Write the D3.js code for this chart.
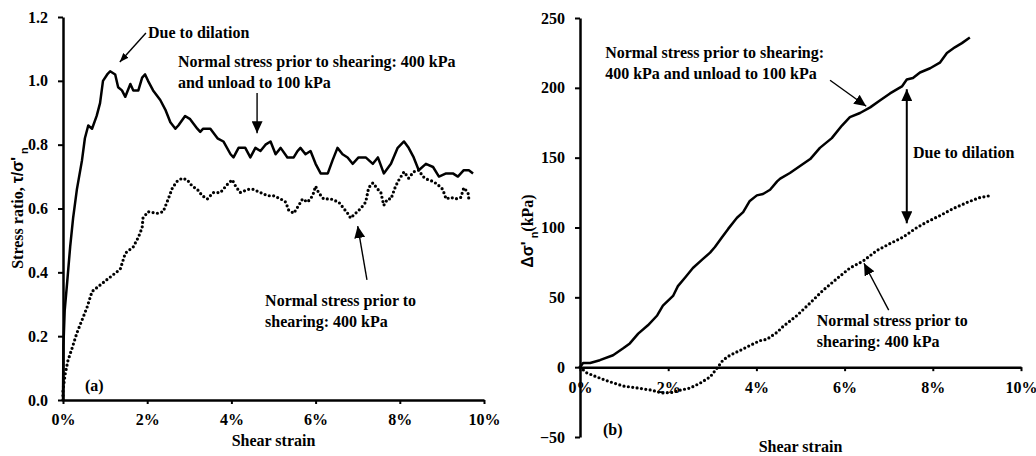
<!DOCTYPE html>
<html>
<head>
<meta charset="utf-8">
<script src="https://cdn.jsdelivr.net/npm/d3@7"></script>
<style>
  html, body { margin: 0; padding: 0; background: #fff; }
  svg text { font-family: 'Liberation Serif', 'Times New Roman', serif; font-weight: bold; fill: #000; }
  .sym { font-family: 'Liberation Sans', Arial, sans-serif; }
</style>
</head>
<body>
<svg id="chart" width="1036" height="456"></svg>
<script>
/* ── Data (shear strain in %) ───────────────────────────────────── */
const xTicks = [0, 2, 4, 6, 8, 10];
const ratioTicks = [0, 0.2, 0.4, 0.6, 0.8, 1.0, 1.2];
const dSigmaTicks = [-50, 0, 50, 100, 150, 200, 250];

// (a) stress ratio, 400 kPa then unloaded to 100 kPa
const ratioUnload = [
  [0,0],[0.01,0.17],[0.04,0.28],[0.1,0.37],[0.17,0.48],[0.24,0.57],[0.33,0.66],[0.45,0.75],
  [0.52,0.82],[0.6,0.86],[0.69,0.85],[0.8,0.89],[0.88,0.93],[0.95,1.0],[1.05,1.02],[1.12,1.03],
  [1.24,1.02],[1.31,0.98],[1.4,0.97],[1.48,0.95],[1.6,0.99],[1.67,0.97],[1.79,0.97],[1.88,1.01],
  [1.95,1.02],[2.02,1.0],[2.14,0.97],[2.31,0.94],[2.43,0.91],[2.55,0.87],[2.67,0.85],[2.74,0.86],
  [2.9,0.89],[3.02,0.88],[3.19,0.85],[3.26,0.84],[3.33,0.85],[3.5,0.85],[3.67,0.82],[3.81,0.81],
  [3.98,0.77],[4.05,0.76],[4.17,0.79],[4.33,0.79],[4.45,0.76],[4.57,0.79],[4.69,0.78],[4.81,0.8],
  [4.93,0.81],[5.05,0.77],[5.17,0.79],[5.33,0.76],[5.48,0.76],[5.57,0.78],[5.64,0.79],[5.76,0.77],
  [5.88,0.78],[6.0,0.74],[6.12,0.71],[6.29,0.71],[6.4,0.75],[6.52,0.79],[6.64,0.77],[6.76,0.76],
  [6.88,0.74],[7.02,0.76],[7.19,0.76],[7.36,0.74],[7.48,0.76],[7.62,0.71],[7.79,0.74],[7.95,0.79],
  [8.1,0.81],[8.21,0.79],[8.33,0.76],[8.45,0.72],[8.62,0.74],[8.79,0.73],[8.93,0.7],[9.1,0.71],
  [9.26,0.71],[9.38,0.7],[9.52,0.72],[9.64,0.72],[9.74,0.71]
];

// (a) stress ratio, 400 kPa
const ratio400 = [
  [0,0],[0,0.03],[0.05,0.08],[0.12,0.125],[0.21,0.16],[0.33,0.21],[0.45,0.25],[0.57,0.29],
  [0.69,0.34],[0.88,0.36],[1.12,0.385],[1.36,0.41],[1.48,0.46],[1.67,0.48],[1.79,0.51],[1.88,0.54],
  [1.9,0.57],[2.02,0.59],[2.24,0.585],[2.38,0.59],[2.5,0.63],[2.6,0.665],[2.71,0.685],[2.83,0.695],
  [2.95,0.69],[3.07,0.67],[3.19,0.66],[3.31,0.64],[3.43,0.63],[3.57,0.65],[3.74,0.65],[3.9,0.675],
  [4.02,0.69],[4.1,0.67],[4.21,0.65],[4.4,0.66],[4.52,0.66],[4.69,0.65],[4.86,0.64],[5.0,0.64],
  [5.17,0.63],[5.29,0.62],[5.36,0.595],[5.48,0.585],[5.6,0.61],[5.69,0.63],[5.81,0.62],[5.93,0.64],
  [6.0,0.67],[6.07,0.65],[6.19,0.63],[6.36,0.63],[6.55,0.62],[6.67,0.6],[6.79,0.58],[6.83,0.57],
  [6.95,0.585],[7.07,0.6],[7.19,0.62],[7.26,0.665],[7.36,0.68],[7.48,0.66],[7.55,0.65],[7.62,0.61],
  [7.71,0.63],[7.79,0.63],[7.9,0.67],[7.98,0.69],[8.1,0.715],[8.21,0.695],[8.33,0.715],[8.45,0.72],
  [8.55,0.7],[8.67,0.69],[8.79,0.685],[8.9,0.675],[9.02,0.66],[9.1,0.63],[9.21,0.635],[9.33,0.63],
  [9.45,0.635],[9.52,0.665],[9.62,0.65],[9.64,0.63]
];

// (b) change of normal stress (kPa), unloaded case
const dSigmaUnload = [
  [0,0],[0.07,3],[0.23,3],[0.45,5],[0.75,8.5],[0.98,13.5],[1.13,17],[1.32,24],[1.54,30],
  [1.75,37],[1.88,44],[2.11,51],[2.22,58],[2.38,64],[2.56,71],[2.77,77],[2.95,82],[3.06,86],
  [3.22,93],[3.36,99],[3.51,105],[3.56,107],[3.7,111],[3.85,119],[4.01,123],[4.15,124],[4.31,127],
  [4.47,133],[4.54,135],[4.76,139],[4.99,144],[5.22,149],[5.44,157],[5.71,164],[5.94,173],
  [6.12,179],[6.35,182],[6.58,186],[6.8,191],[7.03,196],[7.3,201],[7.41,206],[7.55,207],
  [7.71,211],[7.94,214],[8.16,218],[8.32,225],[8.5,229],[8.66,232],[8.84,236]
];

// (b) change of normal stress (kPa), 400 kPa
const dSigma400 = [
  [0,0],[0.15,-4],[0.38,-7],[0.68,-10.5],[0.98,-13.5],[1.32,-15],[1.63,-16.5],[1.86,-18.5],
  [2.11,-18],[2.27,-16.5],[2.49,-15],[2.72,-11.5],[2.95,-7],[3.1,-1],[3.24,5],[3.4,8.5],
  [3.63,12],[3.85,15.5],[4.08,19],[4.24,20],[4.47,25],[4.6,29],[4.92,37],[5.22,46],[5.51,55],
  [5.83,63.5],[6.12,71],[6.42,76],[6.73,83.5],[7.03,88.5],[7.32,93],[7.64,100],[7.87,104],
  [8.16,108.5],[8.46,113.5],[8.78,118],[9.07,121.5],[9.34,123]
];

// annotations, in data units of each panel
const notesA = [
  { x: 2.02, y: 1.153, lines: ['Due to dilation'] },
  { x: 2.73, y: 1.062, lines: ['Normal stress prior to shearing: 400 kPa', 'and unload to 100 kPa'] },
  { x: 4.8,  y: 0.313, lines: ['Normal stress prior to', 'shearing: 400 kPa'] },
  { x: 0.52, y: 0.047, lines: ['(a)'] }
];
const arrowsA = [
  { from: [1.97, 1.15], to: [1.35, 1.059], head: 'sm' },
  { from: [4.61, 0.962], to: [4.61, 0.836], head: 'lg' },
  { from: [7.22, 0.376], to: [7.0, 0.545], head: 'lg' }
];
const notesB = [
  { x: 0.57, y: 225.5, lines: ['Normal stress prior to shearing:', '400 kPa and unload to 100 kPa'] },
  { x: 7.55, y: 153.9, lines: ['Due to dilation'] },
  { x: 5.37, y: 33.6,  lines: ['Normal stress prior to', 'shearing: 400 kPa'] },
  { x: 0.52, y: -44.4, lines: ['(b)'] }
];
const arrowsB = [
  { from: [5.67, 205.4], to: [6.49, 186.8], head: 'lg' },
  { from: [7.41, 103], to: [7.41, 199], head: 'lg', both: true },
  { from: [7.0, 40.8], to: [6.44, 74.4], head: 'lg' }
];

/* ── Layout ─────────────────────────────────────────────────────── */
const LINE_GAP = 21;   // annotation line spacing
const svg = d3.select('#chart');

const defs = svg.append('defs');
function marker(id, len, wid, flip) {
  defs.append('marker')
    .attr('id', id)
    .attr('markerUnits', 'userSpaceOnUse')
    .attr('viewBox', `0 ${-wid / 2} ${len} ${wid}`)
    .attr('refX', flip ? 0 : len).attr('refY', 0)
    .attr('markerWidth', len).attr('markerHeight', wid)
    .attr('orient', 'auto')
    .append('path')
    .attr('d', flip ? `M${len},${-wid / 2}L0,0L${len},${wid / 2}Z` : `M0,${-wid / 2}L${len},0L0,${wid / 2}Z`)
    .attr('fill', '#000');
}
marker('head-sm', 9, 7, false);
marker('head-lg', 12, 11, false);
marker('tail-lg', 12, 11, true);

function panel(cfg) {
  const x = d3.scaleLinear().domain([0, 10]).range(cfg.xr);
  const y = d3.scaleLinear().domain(cfg.yd).range(cfg.yr);
  const g = svg.append('g');

  // y axis
  const ya = g.append('g')
    .attr('transform', `translate(${cfg.xr[0]},0)`)
    .call(d3.axisLeft(y).tickValues(cfg.yTicks).tickFormat(cfg.yFmt)
      .tickSize(5).tickSizeOuter(0).tickPadding(10));
  // x axis
  const xa = g.append('g')
    .attr('transform', `translate(0,${y(0)})`)
    .call(d3.axisBottom(x).tickValues(xTicks).tickFormat(d => d + '%')
      .tickSize(4).tickSizeOuter(0).tickPadding(10));

  [ya, xa].forEach(a => {
    a.select('.domain').attr('stroke', '#000').attr('stroke-width', 2.5);
    a.selectAll('.tick line').attr('stroke', '#000').attr('stroke-width', 2);
    a.selectAll('.tick text').attr('font-size', 16)
      .style('font-family', "'Liberation Serif','Times New Roman',serif")
      .style('font-weight', 'bold');
  });

  // axis titles
  g.append('text')
    .attr('x', (cfg.xr[0] + cfg.xr[1]) / 2).attr('y', cfg.xTitleY)
    .attr('text-anchor', 'middle').attr('dy', '0.35em').attr('font-size', 16)
    .text('Shear strain');
  cfg.yTitle(g.append('text')
    .attr('transform', `translate(${cfg.yTitleX},${cfg.yTitleY}) rotate(-90)`)
    .attr('text-anchor', 'middle').attr('dy', '0.35em').attr('font-size', 16));

  // series
  const line = d3.line().x(d => x(d[0])).y(d => y(d[1]));
  g.append('path').datum(cfg.solid).attr('d', line)
    .attr('fill', 'none').attr('stroke', '#000').attr('stroke-width', 2.5)
    .attr('stroke-linejoin', 'round');
  g.append('path').datum(cfg.dotted).attr('d', line)
    .attr('fill', 'none').attr('stroke', '#000').attr('stroke-width', 3.2)
    .attr('stroke-linecap', 'round').attr('stroke-dasharray', '0 4.4');

  // annotations
  cfg.notes.forEach(n => {
    const t = g.append('text').attr('font-size', 16);
    n.lines.forEach((ln, i) =>
      t.append('tspan').attr('x', x(n.x)).attr('y', y(n.y) + i * LINE_GAP)
        .attr('dy', '0.35em').text(ln));
  });
  cfg.arrows.forEach(a => {
    g.append('line')
      .attr('x1', x(a.from[0])).attr('y1', y(a.from[1]))
      .attr('x2', x(a.to[0])).attr('y2', y(a.to[1]))
      .attr('stroke', '#000').attr('stroke-width', a.both ? 2 : 1.4)
      .attr('marker-end', `url(#head-${a.head})`)
      .attr('marker-start', a.both ? 'url(#tail-lg)' : null);
  });
}

panel({
  xr: [63, 484], yd: [0, 1.2], yr: [400, 17],
  yTicks: ratioTicks, yFmt: d3.format('.1f'),
  xTitleY: 440, yTitleX: 17, yTitleY: 208,
  yTitle: t => {
    t.append('tspan').text('Stress ratio, ');
    t.append('tspan').attr('class', 'sym').text("τ/σ'");
    t.append('tspan').attr('class', 'sym').attr('font-size', 11).attr('dy', '0.45em').text(' n');
  },
  solid: ratioUnload, dotted: ratio400, notes: notesA, arrows: arrowsA
});

panel({
  xr: [580, 1021], yd: [-50, 250], yr: [437, 18],
  yTicks: dSigmaTicks, yFmt: d3.format('d'),
  xTitleY: 446, yTitleX: 527, yTitleY: 231,
  yTitle: t => {
    t.append('tspan').attr('class', 'sym').text("Δσ'");
    t.append('tspan').attr('class', 'sym').attr('font-size', 11).attr('dy', '0.45em').text(' n');
    t.append('tspan').attr('dy', '-0.3em').text('(kPa)');
  },
  solid: dSigmaUnload, dotted: dSigma400, notes: notesB, arrows: arrowsB
});
</script>
</body>
</html>
